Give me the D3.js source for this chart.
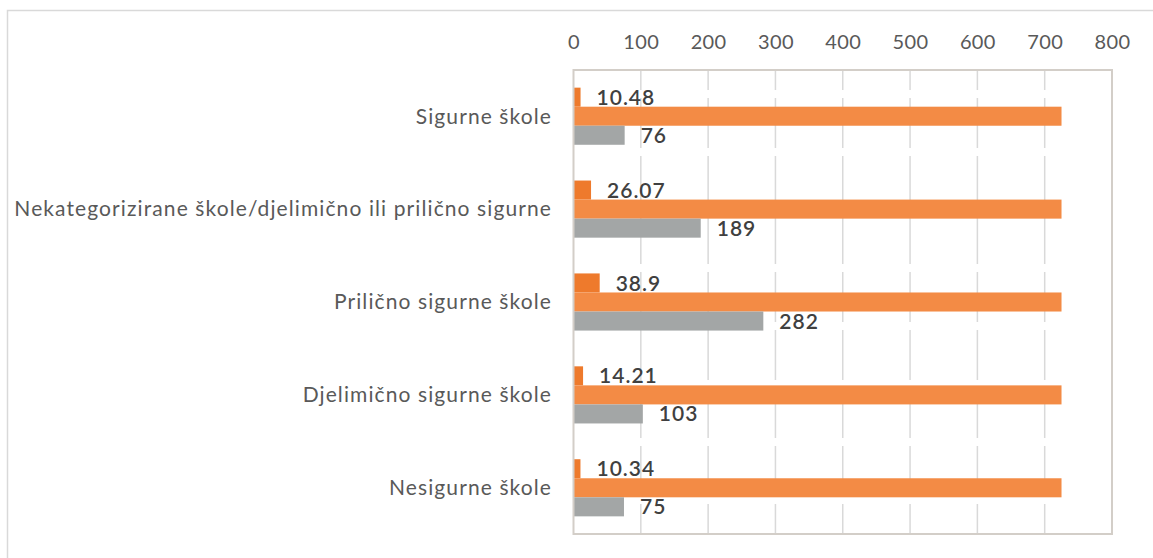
<!DOCTYPE html>
<html>
<head>
<meta charset="utf-8">
<script src="https://cdn.jsdelivr.net/npm/d3@7"></script>
<style>
  html, body { margin: 0; padding: 0; background: #fff; }
  svg { display: block; }
  text { font-family: Lato, "Open Sans", sans-serif; }
</style>
</head>
<body>
<svg id="chart" width="1153" height="558"></svg>
<script>
// School safety categories
const categories = [
  "Sigurne škole",
  "Nekategorizirane škole/djelimično ili prilično sigurne",
  "Prilično sigurne škole",
  "Djelimično sigurne škole",
  "Nesigurne škole"
];
// Share of schools (%)
const percentValues = [10.48, 26.07, 38.9, 14.21, 10.34];
// Total number of schools
const totalValues = [725, 725, 725, 725, 725];
// Number of schools per category
const countValues = [76, 189, 282, 103, 75];
const xTicks = [0, 100, 200, 300, 400, 500, 600, 700, 800];

const series = [
  { key: "pct", values: percentValues, color: "#EE7A2C", label: true },
  { key: "total", values: totalValues, color: "#F38B45", label: false },
  { key: "count", values: countValues, color: "#A3A6A6", label: true }
];

const svg = d3.select("#chart");
const margin = { left: 573.5, right: 1112, top: 70, bottom: 534 };

// Outer frame
svg.append("rect")
  .attr("x", 7.5).attr("y", 10.5)
  .attr("width", 1160).attr("height", 560)
  .attr("fill", "none").attr("stroke", "#d9d9d9").attr("stroke-width", 1.5);

const x = d3.scaleLinear().domain([0, 800]).range([margin.left, margin.right]);
const y = d3.scaleBand().domain(categories).range([margin.top, margin.bottom]).paddingInner(0.385).paddingOuter(0.19);
const ySub = d3.scaleBand().domain(series.map(s => s.key)).range([0, y.bandwidth()]);

// Dashed vertical gridlines
svg.append("g")
  .selectAll("line")
  .data(xTicks.slice(1, -1))
  .join("line")
  .attr("x1", d => x(d)).attr("x2", d => x(d))
  .attr("y1", margin.top).attr("y2", margin.bottom)
  .attr("stroke", "#d9d9d9").attr("stroke-width", 1.5)
  .attr("stroke-dasharray", "50 8").attr("stroke-dashoffset", 30);

// Top axis
const axis = svg.append("g")
  .attr("transform", `translate(0, 42)`)
  .call(d3.axisTop(x).tickValues(xTicks).tickSize(0).tickPadding(0));
axis.select(".domain").remove();
axis.selectAll("text")
  .attr("dy", "0.35em")
  .attr("fill", "#595959")
  .style("font-size", "20px")
  .style("letter-spacing", "0.4px")
  .style("font-family", "Lato, sans-serif");

// Bars
const groups = svg.append("g")
  .selectAll("g")
  .data(categories)
  .join("g")
  .attr("transform", d => `translate(0, ${y(d)})`);

series.forEach(s => {
  groups.append("rect")
    .attr("x", x(0))
    .attr("y", ySub(s.key))
    .attr("width", (d, i) => x(s.values[i]) - x(0))
    .attr("height", ySub.bandwidth())
    .attr("fill", s.color);
  if (s.label) {
    groups.append("text")
      .attr("x", (d, i) => x(s.values[i]) + 16)
      .attr("y", ySub(s.key) + ySub.bandwidth() / 2)
      .attr("dy", "0.36em")
      .attr("fill", "#404040")
      .style("font-size", "21px")
      .style("font-weight", "600")
      .style("letter-spacing", "1px")
      .text((d, i) => s.values[i]);
  }
});

// Plot border
svg.append("rect")
  .attr("x", margin.left).attr("y", margin.top)
  .attr("width", margin.right - margin.left)
  .attr("height", margin.bottom - margin.top)
  .attr("fill", "none").attr("stroke", "#d3cec8").attr("stroke-width", 2);

// Category labels
svg.append("g")
  .selectAll("text")
  .data(categories)
  .join("text")
  .attr("x", 552)
  .attr("y", d => y(d) + y.bandwidth() / 2)
  .attr("dy", "0.35em")
  .attr("text-anchor", "end")
  .attr("fill", "#595959")
  .style("font-size", "21px")
  .style("letter-spacing", "1.1px")
  .text(d => d);
</script>
</body>
</html>
